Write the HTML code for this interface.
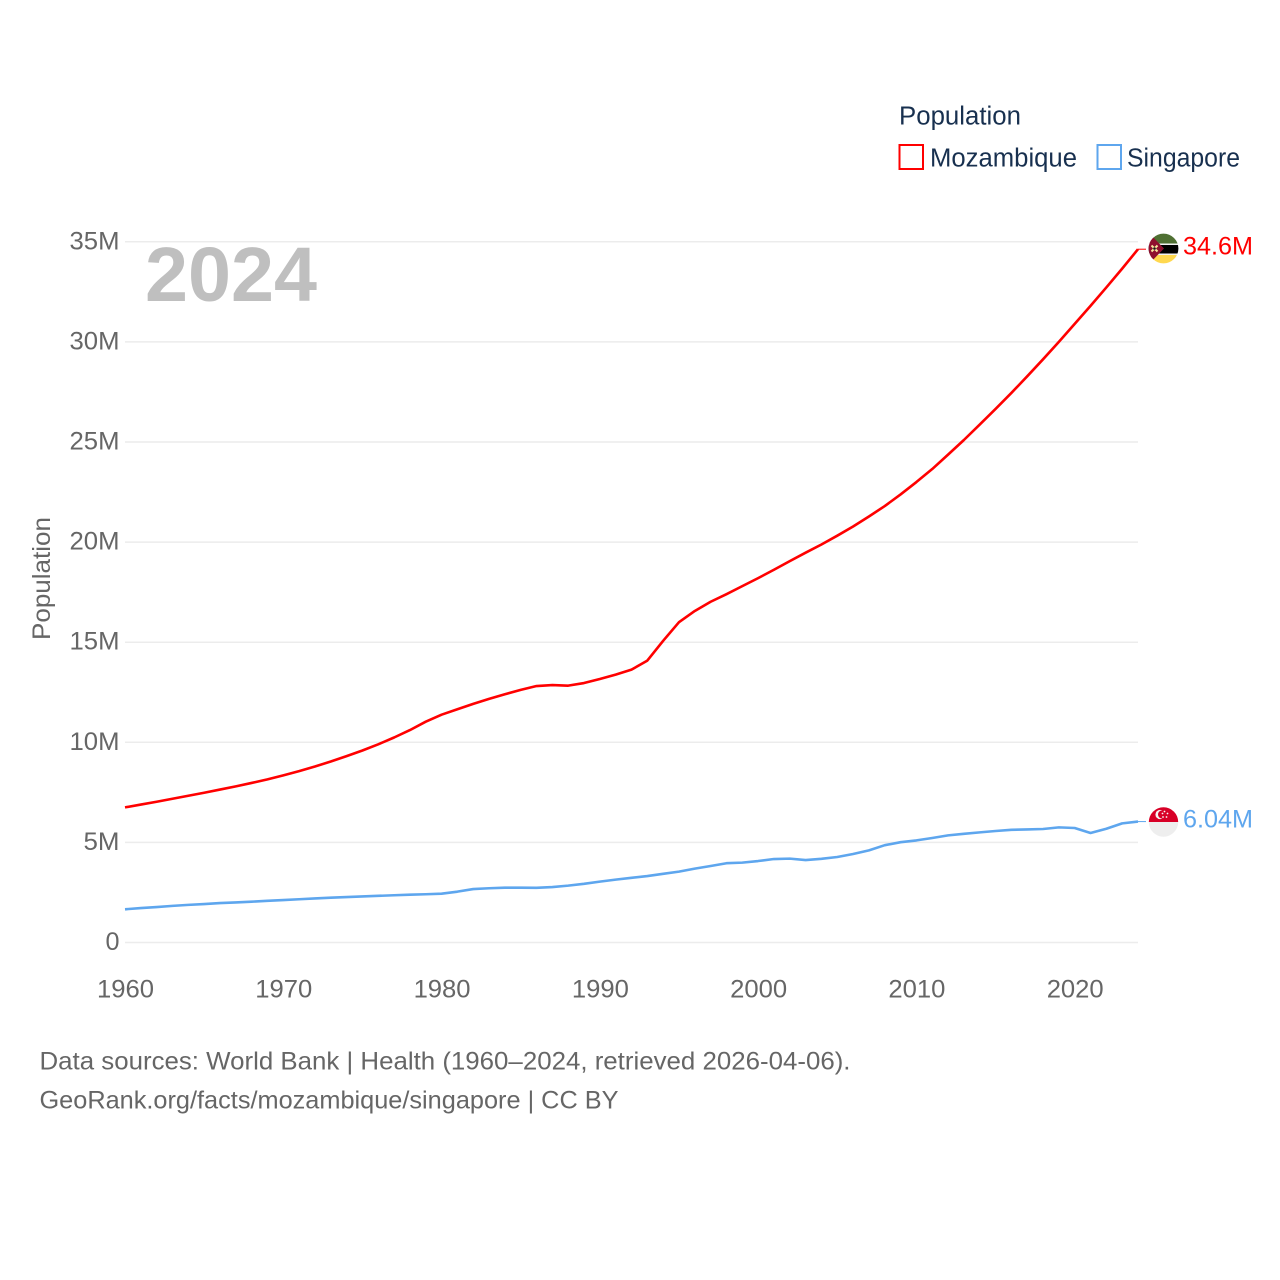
<!DOCTYPE html>
<html lang="en">
<head>
<meta charset="utf-8">
<title>Population: Mozambique and Singapore</title>
<style>
html,body{margin:0;padding:0;background:#fff}
svg{display:block}
text{font-family:"Liberation Sans",sans-serif}
</style>
</head>
<body>
<svg id="chart" xmlns="http://www.w3.org/2000/svg" width="1280" height="1280" viewBox="0 0 1280 1280">
  <defs>
    <clipPath id="flag-clip-moz"><circle cx="1163.5" cy="248.5" r="14.9"/></clipPath>
    <clipPath id="flag-clip-sgp"><circle cx="1163.5" cy="822" r="14.7"/></clipPath>
  </defs>
  <rect x="0" y="0" width="1280" height="1280" fill="#fff"/>
  <g id="grid"></g>
  <g id="yticks"></g>
  <g id="xticks"></g>
  <text x="145" y="301" font-size="77" font-weight="700" fill="#bfbfbf" textLength="172" lengthAdjust="spacingAndGlyphs">2024</text>
  <text transform="translate(50,640) rotate(-90)" font-size="25" fill="#666" textLength="123" lengthAdjust="spacingAndGlyphs">Population</text>
  <g id="series"></g>

  <g clip-path="url(#flag-clip-moz)">
    <rect x="1148" y="233" width="32" height="10.5" fill="#4f7033"/>
    <rect x="1148" y="243.5" width="32" height="1.5" fill="#f2f2f2"/>
    <rect x="1148" y="245" width="32" height="8.5" fill="#000"/>
    <rect x="1148" y="253.5" width="32" height="1.5" fill="#f2f2f2"/>
    <rect x="1148" y="255" width="32" height="10" fill="#ffd84f"/>
    <polygon points="1148,232 1164,248.5 1148,265" fill="#8f0f2e"/>
    <path d="M1151.5 245.5l6 6M1157.5 245.5l-6 6" stroke="#f7e7a0" stroke-width="2"/>
    <circle cx="1154.5" cy="248.5" r="1.3" fill="#111"/>
  </g>
  <g clip-path="url(#flag-clip-sgp)">
    <rect x="1148" y="807" width="32" height="15" fill="#d80027"/>
    <rect x="1148" y="822" width="32" height="15" fill="#eeeeee"/>
    <circle cx="1160" cy="814.5" r="4.6" fill="#f5f5f5"/>
    <circle cx="1162" cy="814.5" r="4" fill="#d80027"/>
    <circle cx="1164.5" cy="811.5" r="0.9" fill="#f5f5f5"/>
    <circle cx="1167.5" cy="813.5" r="0.9" fill="#f5f5f5"/>
    <circle cx="1166.5" cy="817" r="0.9" fill="#f5f5f5"/>
    <circle cx="1163" cy="817" r="0.9" fill="#f5f5f5"/>
    <circle cx="1162.5" cy="813.5" r="0.9" fill="#f5f5f5"/>
  </g>
  <text x="1183" y="254.5" font-size="25" fill="#ff0000" textLength="70" lengthAdjust="spacingAndGlyphs">34.6M</text>
  <text x="1183" y="827.5" font-size="25" fill="#5ea6ee" textLength="70" lengthAdjust="spacingAndGlyphs">6.04M</text>

  <g>
    <text x="899" y="124.5" font-size="25.5" fill="#18304f" textLength="122" lengthAdjust="spacingAndGlyphs">Population</text>
    <g>
      <rect x="899.5" y="145" width="23.5" height="24" fill="none" stroke="#ff0000" stroke-width="2"/>
      <text x="930" y="166.5" font-size="25.5" fill="#18304f" textLength="147" lengthAdjust="spacingAndGlyphs">Mozambique</text>
    </g>
    <g>
      <rect x="1097.5" y="145" width="23.5" height="24" fill="none" stroke="#5ea6ee" stroke-width="2"/>
      <text x="1127" y="166.5" font-size="25.5" fill="#18304f" textLength="113" lengthAdjust="spacingAndGlyphs">Singapore</text>
    </g>
  </g>

  <text x="39.5" y="1069.5" font-size="25" fill="#666" textLength="811" lengthAdjust="spacingAndGlyphs">Data sources: World Bank | Health (1960–2024, retrieved 2026-04-06).</text>
  <text x="39.5" y="1108.5" font-size="25" fill="#666" textLength="579" lengthAdjust="spacingAndGlyphs">GeoRank.org/facts/mozambique/singapore | CC BY</text>
</svg>
<script>
const startYear = 1960;
const yTickValues = [0, 5, 10, 15, 20, 25, 30, 35];
const yTickLabels = ['0', '5M', '10M', '15M', '20M', '25M', '30M', '35M'];
const xTickValues = [1960, 1970, 1980, 1990, 2000, 2010, 2020];
const xTickLabels = ['1960', '1970', '1980', '1990', '2000', '2010', '2020'];
const mozambique = [
  6.75, 6.89, 7.03, 7.18, 7.33, 7.48, 7.64, 7.80, 7.97, 8.15,
  8.35, 8.56, 8.79, 9.04, 9.31, 9.59, 9.90, 10.24, 10.61, 11.03,
  11.38, 11.65, 11.92, 12.17, 12.40, 12.62, 12.81, 12.86, 12.83, 12.96,
  13.16, 13.38, 13.63, 14.08, 15.07, 16.00, 16.56, 17.02, 17.40, 17.80,
  18.20, 18.62, 19.05, 19.47, 19.88, 20.32, 20.78, 21.28, 21.80, 22.38,
  23.00, 23.65, 24.37, 25.10, 25.87, 26.65, 27.45, 28.28, 29.13, 30.00,
  30.90, 31.80, 32.72, 33.66, 34.63
];
const singapore = [
  1.66, 1.72, 1.77, 1.83, 1.88, 1.92, 1.97, 2.00, 2.04, 2.08,
  2.12, 2.16, 2.20, 2.24, 2.27, 2.30, 2.33, 2.36, 2.39, 2.41,
  2.44, 2.54, 2.67, 2.71, 2.74, 2.74, 2.73, 2.77, 2.84, 2.93,
  3.04, 3.14, 3.23, 3.32, 3.43, 3.54, 3.69, 3.82, 3.96, 3.99,
  4.07, 4.17, 4.19, 4.12, 4.18, 4.27, 4.42, 4.60, 4.86, 5.01,
  5.10, 5.22, 5.35, 5.43, 5.50, 5.57, 5.63, 5.65, 5.67, 5.75,
  5.72, 5.47, 5.68, 5.95, 6.04
];

const NS = 'http://www.w3.org/2000/svg';
function xScale(year) { return 125 + (year - 1960) * (1013 / 64); }
function yScale(v) { return 942.5 - v * 20.02; }
function make(tag, attrs, parent) {
  const el = document.createElementNS(NS, tag);
  for (const k in attrs) el.setAttribute(k, attrs[k]);
  parent.appendChild(el);
  return el;
}

const grid = document.getElementById('grid');
const yticks = document.getElementById('yticks');
const xticks = document.getElementById('xticks');
const seriesGroup = document.getElementById('series');

yTickValues.forEach(function (v, i) {
  const line = make('line', { x1: 125, x2: 1138, y1: yScale(v), y2: yScale(v), stroke: '#ececec', 'stroke-width': 1.5 }, grid);
  
  
  const label = yTickLabels[i];
  const w = label.length === 1 ? 14 : (label.length === 2 ? 36 : 50);
  const t = make('text', { x: 119.5, y: yScale(v) + 7.5, 'font-size': 25, fill: '#666', 'text-anchor': 'end', textLength: w, lengthAdjust: 'spacingAndGlyphs' }, yticks);
  
  
  t.textContent = label;
});

xTickValues.forEach(function (year, i) {
  const t = make('text', { x: xScale(year) + 0.5, y: 997.5, 'font-size': 25, fill: '#666', 'text-anchor': 'middle', textLength: 57, lengthAdjust: 'spacingAndGlyphs' }, xticks);
  
  
  t.textContent = xTickLabels[i];
});

function drawSeries(values, color, name) {
  const pts = values.map(function (v, i) { return xScale(startYear + i).toFixed(2) + ',' + yScale(v).toFixed(2); });
  const path = make('polyline', { points: pts.join(' '), fill: 'none', stroke: color, 'stroke-width': 2.6, 'stroke-linejoin': 'round', 'stroke-linecap': 'butt' }, seriesGroup);
  
  
  const last = yScale(values[values.length - 1]);
  const conn = make('line', { x1: xScale(startYear + values.length - 1), x2: 1146, y1: last, y2: last, stroke: color, 'stroke-width': 1 }, seriesGroup);
  
  
}
drawSeries(mozambique, '#ff0000', 'mozambique-line');
drawSeries(singapore, '#5ea6ee', 'singapore-line');
</script>
</body>
</html>
